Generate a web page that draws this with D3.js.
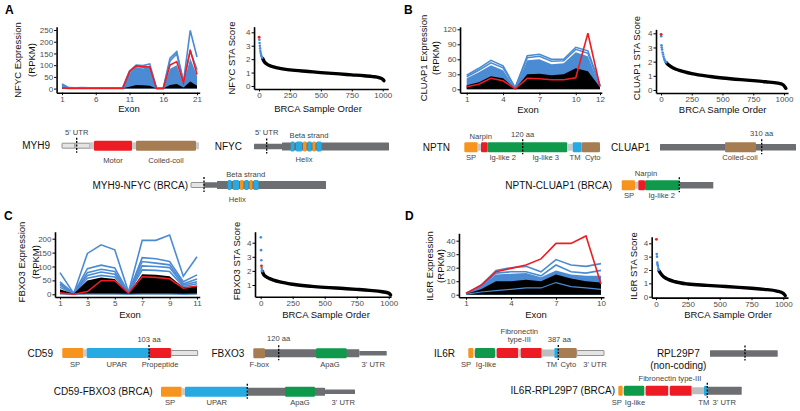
<!DOCTYPE html>
<html><head><meta charset="utf-8">
<script src="https://cdn.jsdelivr.net/npm/d3@7/dist/d3.min.js"></script>
<style>body{margin:0;background:#fff}svg{display:block;font-family:Arial,"Liberation Sans",sans-serif}</style>
</head><body><svg id="c" width="800" height="411"></svg>
<script>
// ---------------- DATA ----------------
// Panel A: NFYC exon expression (RPKM)
const nfycExon = [1,2,3,4,5,6,7,8,9,10,11,12,13,14,15,16,17,18,19,20,21];
const nfycBlueMax = [20,4,3,4,3,3,3,3,3,4,75,100,98,105,1,1,130,158,30,248,135];
const nfycBlue2 = [15,3,2,3,2,2,2,2,2,3,70,95,90,92,1,1,118,148,28,160,80];
const nfycBlueFill = [12,3,2,3,2,2,2,2,2,3,65,92,86,95,0,0,85,100,20,130,55];
const nfycBlack = [3,1,1,1,1,1,1,1,1,1,8,15,14,12,0,0,15,20,5,30,12];
const nfycRed = [3,1,1,1,1,1,1,1,1,1,72,97,93,93,1,1,100,115,25,165,60];
const nfycXTicks = [1,6,11,16,21];
const nfycYTicks = [0,50,100,150,200,250];
// NFYC STA score by sample rank
const nfycStaRed = [[1,3.63]];
const nfycStaBlue = [[3,3.45],[5,3.2],[7,3.0],[9,2.8],[11,2.6],[14,2.45],[17,2.3],[21,2.2],[26,2.1]];
const nfycStaBlack = [[30,2.05],[40,1.85],[60,1.65],[100,1.47],[150,1.35],[250,1.2],[400,1.08],[500,1.0],[650,0.9],[750,0.83],[850,0.76],[920,0.7],[970,0.62],[1000,0.5],[1010,0.4]];

// Panel B: CLUAP1
const cluapExon = [1,2,3,4,5,6,7,8,9,10,11,12];
const cluapBlueMax = [28,42,58,47,3,67,70,60,60,84,77,8];
const cluapBlue2 = [25,38,53,43,3,63,66,56,57,80,72,7];
const cluapBlueFill = [22,34,48,38,2,58,60,50,52,74,66,5];
const cluapBlack = [8,14,26,22,1,30,31,28,30,42,36,4];
const cluapRed = [5,10,22,17,1,22,21,19,19,23,112,5];
const cluapXTicks = [1,4,7,10,12];
const cluapYTicks = [0,30,60,90,120];
const cluapStaRed = [[1,3.93]];
const cluapStaBlue = [[2,3.8],[4,3.15],[6,3.0],[9,2.85],[13,2.65],[17,2.5],[21,2.35],[26,2.2],[31,2.1],[36,2.0],[41,1.95]];
const cluapStaBlack = [[45,1.92],[60,1.78],[100,1.55],[150,1.38],[250,1.15],[400,0.95],[500,0.85],[650,0.73],[750,0.66],[850,0.58],[950,0.48],[990,0.38],[1005,0.25],[1015,0.12]];

// Panel C: FBXO3
const fbxoExon = [1,2,3,4,5,6,7,8,9,10,11];
const fbxoBlueLines = [
  [78,3,147,178,160,8,194,194,213,65,135],
  [45,3,92,105,95,5,132,128,118,45,70],
  [38,2,78,90,82,5,118,112,106,38,55],
  [32,2,68,80,72,4,102,100,96,33,45],
  [25,2,58,68,62,4,88,86,82,28,38]
];
const fbxoBlack = [18,2,50,60,55,4,72,70,65,25,30];
const fbxoBlueLow = [2,0,1,1,1,0,1,1,1,0,1];
const fbxoRed = [5,0,10,49,49,4,63,61,56,22,30];
const fbxoXTicks = [1,3,5,7,9,11];
const fbxoYTicks = [0,50,100,150,200];
const fbxoStaRed = [[6,2.36]];
const fbxoStaBlue = [[1,4.38],[3,3.47],[5,2.76],[8,2.2],[10,2.05],[12,1.98]];
const fbxoStaBlack = [[14,1.95],[20,1.8],[40,1.6],[70,1.45],[100,1.35],[150,1.22],[250,1.05],[400,0.9],[500,0.83],[650,0.75],[750,0.69],[850,0.62],[950,0.52],[1000,0.42],[1015,0.3]];

// Panel D: IL6R
const il6rExon = [1,2,3,4,5,6,7,8,9,10];
const il6rBlueMax = [1,7,18,20,21,17,26,22,21,23];
const il6rBlue2 = [1,6,16,17,17,14,22,17,16,18];
const il6rBlueFill = [1,6,15,15.5,16,13,18,15,14,14];
const il6rBlack = [0.5,4,10,10,11,10,15,12,10,9];
const il6rBlueLow = [0.3,2,3,4,5,5,9,6,5,4];
const il6rRed = [1,7,17,19.5,22,26.5,38,38,43.5,8];
const il6rXTicks = [1,4,7,10];
const il6rYTicks = [0,10,20,30,40];
const il6rStaRed = [[3,4.3]];
const il6rStaBlue = [[6,3.2],[8,3.0],[10,2.55],[12,2.42],[15,2.3],[18,2.12],[22,2.0]];
const il6rStaBlack = [[25,1.92],[40,1.7],[60,1.5],[100,1.28],[150,1.12],[250,0.95],[400,0.85],[500,0.79],[650,0.7],[750,0.63],[850,0.55],[950,0.42],[1000,0.25],[1015,0.08]];

const staXTicks = [0,250,500,750,1000];

// Protein domain diagrams (relative units along each construct)
const myh9Domains = [[0,13,'utr'],[13,28,'utr'],[28,32,'link'],[32,70,'red'],[70,74,'link'],[74,134,'brown'],[134,137,'link']];
const nfycDomains = [[0,28,'gthin'],[28,135,'gthick'],[36.7,40.3,'blue'],[42,48,'blue'],[49,52.5,'orange'],[53.5,57.5,'blue'],[58.5,61.5,'orange'],[62.5,67.5,'blue']];
const myh9nfycDomains = [[0,13,'utr'],[13,26,'gthin'],[26,135,'gthick'],[36.7,40.3,'blue'],[42,48,'blue'],[49,52.5,'orange'],[53.5,57.5,'blue'],[58.5,61.5,'orange'],[62.5,67.5,'blue']];
const nptnDomains = [[0,13.4,'orange'],[13.4,16.7,'link'],[16.7,23.4,'red'],[23.4,103,'green'],[103,108.4,'link'],[108.4,117.4,'blue'],[117.4,135.7,'brown']];
const cluap1Domains = [[0,136,'gmid'],[65,96,'brown']];
const nptncluapDomains = [[0,13.3,'orange'],[13.3,16.6,'link'],[16.6,23.3,'red'],[23.3,57.6,'green'],[57.6,91.6,'gmid']];
const cd59Domains = [[0,21,'orange'],[21,24.4,'link'],[24.4,86.7,'blue'],[86.7,108.7,'red'],[108.7,135.4,'utr']];
const fbxo3Domains = [[10,106,'gthick'],[106,133.4,'gthin2'],[0,11.7,'brown'],[62.7,93.4,'green']];
const cd59fbxoDomains = [[0,20.7,'orange'],[20.7,24,'link'],[24,86.3,'blue'],[86.3,164,'gthick'],[164,194,'gthin2'],[124,154,'green']];
const il6rDomains = [[0,5,'orange'],[5,6.7,'link'],[6.7,26.7,'green'],[26.7,28.4,'link'],[28.4,50,'red'],[50,52.4,'link'],[52.4,73.4,'red'],[73.4,86,'link2'],[86,90,'blue'],[90,108.4,'brown'],[108.4,135.7,'utr']];
const rplDomains = [[0,67.7,'gmid']];
const il6rrplDomains = [[0,4.4,'orange'],[4.4,5.7,'link'],[5.7,26,'green'],[26,27.4,'link'],[27.4,50,'red'],[50,51.7,'link'],[51.7,73.4,'red'],[73.4,85.7,'link2'],[85.7,89,'blue'],[89,123.4,'gthick']];

// ---------------- DRAWING ----------------
const svg = d3.select('#c');
const BLUE = '#4b8bd4', RED = '#ee1d24';
const FONT = 'Arial, "Liberation Sans", sans-serif';
function lin(v0,p0,v1,p1,lo,hi){const k=(p1-p0)/(v1-v0);return d3.scaleLinear().domain([lo,hi]).range([p0+(lo-v0)*k,p0+(hi-v0)*k]);}
function axes(g,x,y,xt,yt){
  const ax = g.append('g').attr('transform',`translate(0,${y.range()[0]})`)
    .call(d3.axisBottom(x).tickValues(xt).tickFormat(d3.format('d')).tickSize(2.5).tickSizeOuter(0).tickPadding(1));
  const ay = g.append('g').attr('transform',`translate(${x.range()[0]},0)`)
    .call(d3.axisLeft(y).tickValues(yt).tickFormat(d3.format('d')).tickSize(2.5).tickSizeOuter(0).tickPadding(1));
  [ax,ay].forEach(a=>{
    a.select('.domain').attr('stroke','#000').attr('stroke-width',1.6);
    a.selectAll('.tick line').attr('stroke','#000').attr('stroke-width',1);
    a.selectAll('text').attr('font-size',8).attr('fill','#4d4d4d').attr('font-family',FONT);
  });
}
function text(x,y,s,opt={}){
  const t = svg.append('text').attr('x',x).attr('y',y).text(s)
    .attr('font-family',FONT).attr('font-size',opt.size||9.5).attr('fill',opt.fill||'#111')
    .attr('text-anchor',opt.anchor||'middle');
  if(opt.bold) t.attr('font-weight','bold');
  if(opt.rot) t.attr('transform',`rotate(-90,${x},${y})`);
  if(opt.baseline) t.attr('dominant-baseline',opt.baseline);
  return t;
}
function lineChart(c){
  const ex = c.exons;
  const x = lin(ex[0],c.xp[0],ex[ex.length-1],c.xp[1],c.xExt[0],c.xExt[1]);
  const y = lin(0,c.yp[0],c.yTop,c.yp[1],c.yExt[0],c.yExt[1]);
  const g = svg.append('g');
  const area = d3.area().x((d,i)=>x(ex[i])).y0(y(0)).y1(d=>y(d));
  const line = d3.line().x((d,i)=>x(ex[i])).y(d=>y(d));
  if(c.blueFill) g.append('path').attr('d',area(c.blueFill)).attr('fill',BLUE);
  (c.blueLines||[]).forEach(s=>g.append('path').attr('d',line(s)).attr('fill','none').attr('stroke',BLUE).attr('stroke-width',1.6));
  g.append('path').attr('d',area(c.black)).attr('fill','#000');
  (c.blueLow||[]).forEach(s=>g.append('path').attr('d',line(s)).attr('fill','none').attr('stroke',BLUE).attr('stroke-width',1.2));
  g.append('path').attr('d',line(c.red)).attr('fill','none').attr('stroke',RED).attr('stroke-width',1.6);
  axes(g,x,y,c.xt,c.yt);
  text(c.xTitle[0],c.xTitle[1],'Exon');
  text(c.yTitle[0],c.yTitle[2],c.gene+' Expression',{rot:true});
  text(c.yTitle[1],c.yTitle[2],'(RPKM)',{rot:true});
}
function staChart(c){
  const x = lin(0,c.xp[0],1000,c.xp[1],c.xExt[0],c.xExt[1]);
  const y = lin(c.yv[0],c.yp[0],c.yv[1],c.yp[1],c.yExt[0],c.yExt[1]);
  const g = svg.append('g');
  g.append('path').attr('d',d3.line().x(d=>x(d[0])).y(d=>y(d[1])).curve(d3.curveMonotoneX)(c.black))
    .attr('fill','none').attr('stroke','#000').attr('stroke-width',3.4).attr('stroke-linecap','round');
  g.selectAll('.b').data(c.blue).enter().append('circle').attr('cx',d=>x(d[0])).attr('cy',d=>y(d[1])).attr('r',1.3).attr('fill',BLUE);
  g.selectAll('.r').data(c.red).enter().append('circle').attr('cx',d=>x(d[0])).attr('cy',d=>y(d[1])).attr('r',1.4).attr('fill',RED);
  axes(g,x,y,staXTicks,c.yt);
  text(c.xTitle[0],c.xTitle[1],'BRCA Sample Order');
  text(c.yTitle[0],c.yTitle[1],c.gene+' STA Score',{rot:true});
}

// Panel letters
text(5,14,'A',{bold:true,size:12,anchor:'start',fill:'#000'});
text(404,14,'B',{bold:true,size:12,anchor:'start',fill:'#000'});
text(4,220,'C',{bold:true,size:12,anchor:'start',fill:'#000'});
text(405,220,'D',{bold:true,size:12,anchor:'start',fill:'#000'});

lineChart({exons:nfycExon,xp:[62,197],xExt:[0.2,21.4],yTop:250,yp:[88.6,30],yExt:[-17.5,264],
  blueFill:nfycBlueFill,blueLines:[nfycBlueMax,nfycBlue2],black:nfycBlack,red:nfycRed,xt:nfycXTicks,yt:nfycYTicks,
  xTitle:[129,112],yTitle:[21,35,60],gene:'NFYC'});
staChart({xp:[259,382.7],xExt:[-40,1045],yv:[0,4],yp:[86,32.3],yExt:[-0.22,4.42],
  black:nfycStaBlack,blue:nfycStaBlue,red:nfycStaRed,yt:[0,1,2,3,4],xTitle:[318,112],yTitle:[235.3,58],gene:'NFYC'});

lineChart({exons:cluapExon,xp:[466.7,600],xExt:[0.45,12.15],yTop:120,yp:[89.3,29.3],yExt:[-6.8,125],
  blueFill:cluapBlueFill,blueLines:[cluapBlueMax,cluapBlue2],black:cluapBlack,red:cluapRed,xt:cluapXTicks,yt:cluapYTicks,
  xTitle:[528,113],yTitle:[427,439,58],gene:'CLUAP1'});
staChart({xp:[661,784],xExt:[-40.6,1033],yv:[0,4],yp:[90,33.3],yExt:[-0.21,4.28],
  black:cluapStaBlack,blue:cluapStaBlue,red:cluapStaRed,yt:[0,1,2,3,4],xTitle:[722.7,113],yTitle:[640.3,58],gene:'CLUAP1'});

lineChart({exons:fbxoExon,xp:[60,197],xExt:[0.635,11.2],yTop:200,yp:[294.3,238.7],yExt:[-9.7,225],
  blueLines:fbxoBlueLines,black:fbxoBlack,blueLow:[fbxoBlueLow],red:fbxoRed,xt:fbxoXTicks,yt:fbxoYTicks,
  xTitle:[130,318],yTitle:[25,38.5,262],gene:'FBXO3'});
staChart({xp:[260.7,388.7],xExt:[-44.5,1018],yv:[1,4],yp:[285,242.7],yExt:[0.17,4.78],
  black:fbxoStaBlack,blue:fbxoStaBlue,red:fbxoStaRed,yt:[1,2,3,4],xTitle:[326,318],yTitle:[240,261],gene:'FBXO3'});

lineChart({exons:il6rExon,xp:[466,601],xExt:[0.53,10.2],yTop:40,yp:[294.7,240.7],yExt:[-1.9,45.5],
  blueFill:il6rBlueFill,blueLines:[il6rBlueMax,il6rBlue2],black:il6rBlack,blueLow:[il6rBlueLow],red:il6rRed,xt:il6rXTicks,yt:il6rYTicks,
  xTitle:[536,318],yTitle:[432.5,444,266],gene:'IL6R'});
staChart({xp:[656,783.3],xExt:[-34,1037],yv:[0,4],yp:[296.7,243.3],yExt:[-0.07,4.5],
  black:il6rStaBlack,blue:il6rStaBlue,red:il6rStaRed,yt:[0,1,2,3,4],xTitle:[728,318],yTitle:[636.6,266],gene:'IL6R'});

// ---- domain diagrams ----
const DSTYLE = {
  orange:{f:'#f7941d',h:10}, red:{f:'#ed1c24',h:10}, green:{f:'#0f9a4b',h:10}, blue:{f:'#27aae1',h:10},
  brown:{f:'#a67c52',h:10}, link:{f:'#c9cacc',h:7}, link2:{f:'#bcbdc0',h:7},
  gthick:{f:'#6d6e71',h:8}, gthin:{f:'#6d6e71',h:5.5}, gmid:{f:'#6d6e71',h:6.5}, gthin2:{f:'#6d6e71',h:4.5},
  utr:{f:'#e4e4e4',h:5,s:'#7a7a7a'}
};
function gene(c){
  const x = d3.scaleLinear().domain([0,1]).range([c.x0,c.x0+1]);
  const g = svg.append('g');
  c.doms.forEach(d=>{
    const st = DSTYLE[d[2]];
    g.append('rect').attr('x',x(d[0])).attr('width',x(d[1])-x(d[0])).attr('y',c.y-st.h/2).attr('height',st.h)
      .attr('fill',st.f).attr('rx',st.h>=10?1.2:0.5).attr('stroke',st.s||'none').attr('stroke-width',st.s?0.8:0);
  });
  if(c.marker!=null) g.append('line').attr('x1',x(c.marker)).attr('x2',x(c.marker)).attr('y1',c.y-8).attr('y2',c.y+7)
    .attr('stroke','#000').attr('stroke-width',1.3).attr('stroke-dasharray','2,1.4');
  (c.labels||[]).forEach(l=>text(x(l[1]),c.y+l[2],l[0],{size:7.6,fill:'#444',baseline:'central'}));
  if(c.name) text(c.nameX,c.y,c.name,{size:10,anchor:'end',fill:'#111',baseline:'central'});
}
gene({x0:62,y:145.7,doms:myh9Domains,marker:14.7,name:'MYH9',nameX:50,
  labels:[["5' UTR",14.7,-13.7],['Motor',51,14.3],['Coiled-coil',104,14.3]]});
gene({x0:254,y:146.5,doms:nfycDomains,marker:12.7,name:'NFYC',nameX:242,
  labels:[["5' UTR",12.7,-14.5],['Beta strand',55,-11.5],['Helix',50,12.5]]});
gene({x0:191,y:185,doms:myh9nfycDomains,marker:13,name:'MYH9-NFYC (BRCA)',nameX:188,
  labels:[['Beta strand',54.7,-11],['Helix',46.3,14.3]]});
gene({x0:464.3,y:147.3,doms:nptnDomains,marker:58.4,name:'NPTN',nameX:450,
  labels:[['Narpin',16.4,-11.3],['120 aa',58.4,-13.3],['SP',6.7,10],['Ig-like 2',38.4,10],['Ig-like 3',81.4,10],['TM',110.7,10],['Cyto',128.4,10]]});
gene({x0:660,y:147.3,doms:cluap1Domains,marker:101.7,name:'CLUAP1',nameX:650,
  labels:[['310 aa',101.7,-14],['Coiled-coil',80,10]]});
gene({x0:621.7,y:185.3,doms:nptncluapDomains,marker:57.6,name:'NPTN-CLUAP1 (BRCA)',nameX:612,
  labels:[['Narpin',24.3,-12],['SP',7.3,10.4],['Ig-like 2',40,10.4]]});
gene({x0:62.3,y:353,doms:cd59Domains,marker:86.7,name:'CD59',nameX:53,
  labels:[['103 aa',86.7,-13.7],['SP',12.7,11.3],['UPAR',54.4,11.3],['Propeptide',97.7,11.3]]});
gene({x0:253.3,y:353.3,doms:fbxo3Domains,marker:25.4,name:'FBXO3',nameX:244.3,
  labels:[['120 aa',25.4,-15],['F-box',6,11],['ApaG',76.7,11],["3' UTR",120,11]]});
gene({x0:161,y:391.7,doms:cd59fbxoDomains,marker:86.3,name:'CD59-FBXO3 (BRCA)',nameX:152.7,
  labels:[['SP',9,11],['UPAR',55.7,11],['ApaG',139,11],["3' UTR",182.3,11]]});
gene({x0:468.3,y:353,doms:il6rDomains,marker:90,name:'IL6R',nameX:455,
  labels:[['Fibronectin',51,-21.3],['type-III',51,-13.7],['387 aa',91,-13.7],['SP',-2.3,11],['Ig-like',17.7,11],['TM',83.4,11],['Cyto',100,11],["3' UTR",126.7,11]]});
gene({x0:710,y:353.5,doms:rplDomains,marker:35});
text(678.3,353,'RPL29P7',{size:10,fill:'#111',baseline:'central'});
text(678.3,365,'(non-coding)',{size:10,fill:'#111',baseline:'central'});
gene({x0:618.3,y:390.7,doms:il6rrplDomains,marker:89,name:'IL6R-RPL29P7 (BRCA)',nameX:615,
  labels:[['Fibronectin type-III',51.7,-12.4],['SP',-1.6,11.6],['Ig-like',16.7,11.6],['TM',85.5,11.6],["3' UTR",106,11.6]]});
</script></body></html>
